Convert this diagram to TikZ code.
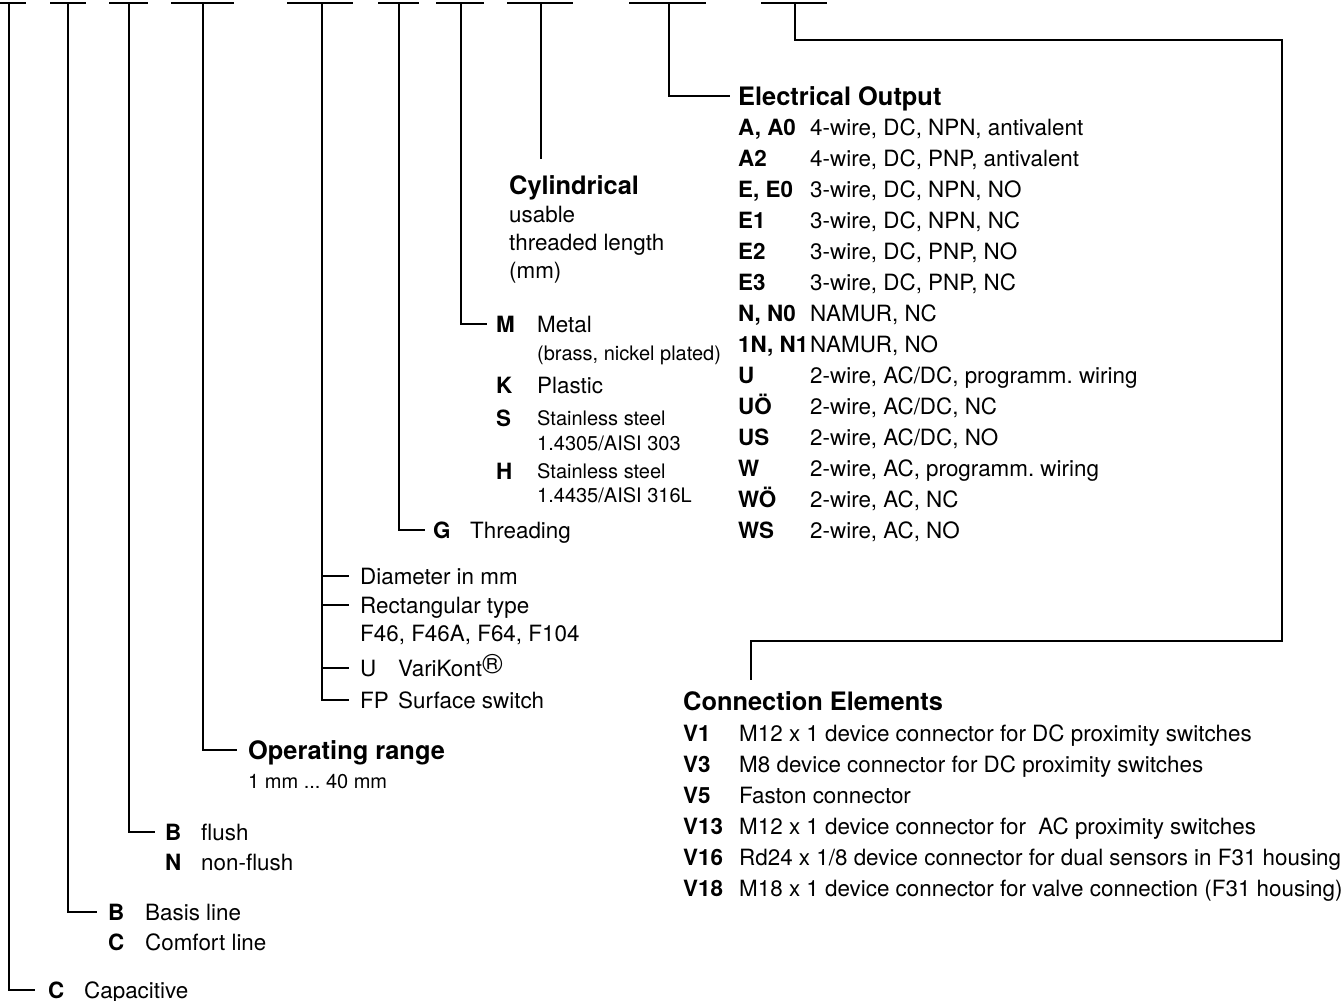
\documentclass[tikz,border=0pt]{standalone}
\usepackage{fontspec}
\setmainfont{TeX Gyre Heros}
\frenchspacing

\tikzset{
  lbl/.style={anchor=west, inner sep=0pt, text depth=0pt},
  txt/.style={lbl, font=\fontsize{11.2}{13}\selectfont, text height=8pt},
  codetxt/.style={lbl, font=\fontsize{11.2}{13}\selectfont\bfseries, text height=8pt},
  headtxt/.style={lbl, font=\fontsize{12.7}{15}\selectfont\bfseries, text height=9.1pt},
  smalltxt/.style={lbl, font=\fontsize{10}{12}\selectfont, text height=7.2pt},
}

\begin{document}
\begin{tikzpicture}[x=0.5pt, y=-0.5pt, line width=1.2pt]
    \useasboundingbox (0,0) rectangle (1344,1001);

    % Top bars of the type code
    \foreach \l/\r/\m [count=\i] in {0/26/9, 50/86/68, 109/148/129, 171/234/203, 287/353/322,
        378/419/399, 436/484/461, 507/573/541, 629/706/669, 761/827/795}
    {
        \draw (\l,3) -- (\r,3);
        \coordinate (b\i) at (\m,3);
    }

    % Sensor principle
    \node[codetxt] (capC) at (47,990) {C};
    \node[txt] (capCd) at (83,990) {Capacitive};

    % Product line
    \node[codetxt] (lineB) at (107,912) {B};
    \node[txt] (lineBd) at (144,912) {Basis line};
    \node[codetxt] (lineC) at (107,942) {C};
    \node[txt] (lineCd) at (144,942) {Comfort line};

    % Mounting
    \node[codetxt] (mntB) at (164,832) {B};
    \node[txt] (mntBd) at (200,832) {flush};
    \node[codetxt] (mntN) at (164,862) {N};
    \node[txt] (mntNd) at (200,862) {non-flush};

    % Operating range
    \node[headtxt] (range) at (247,750) {Operating range};
    \node[smalltxt] (rangev) at (247,781) {1 mm ... 40 mm};

    % Housing shape
    \node[txt] (diam) at (359,576) {Diameter in mm};
    \node[txt] (rect) at (359,605) {Rectangular type};
    \node[txt] (rectf) at (359,633) {F46, F46A, F64, F104};
    \node[txt] (varU) at (359,668) {U};
    \node[txt] (varUd) at (397,668) {VariKont\raisebox{1.5pt}{\fontsize{14}{14}\selectfont\textregistered}};
    \node[txt] (fp) at (359,700) {FP};
    \node[txt] (fpd) at (397,700) {Surface switch};

    % Threading
    \node[codetxt] (thrG) at (432,530) {G};
    \node[txt] (thrGd) at (469,530) {Threading};

    % Housing material
    \node[codetxt] (matM) at (495,324) {M};
    \node[txt] (matMd) at (536,324) {Metal};
    \node[smalltxt] (matMe) at (536,353) {(brass, nickel plated)};
    \node[codetxt] (matK) at (495,385) {K};
    \node[txt] (matKd) at (536,385) {Plastic};
    \node[codetxt] (matS) at (495,418) {S};
    \node[smalltxt] (matSd) at (536,418) {Stainless steel};
    \node[smalltxt] (matSe) at (536,443) {1.4305/AISI 303};
    \node[codetxt] (matH) at (495,471) {H};
    \node[smalltxt] (matHd) at (536,471) {Stainless steel};
    \node[smalltxt] (matHe) at (536,495) {1.4435/AISI 316L};

    % Cylindrical length
    \node[headtxt] (cyl) at (508,185) {Cylindrical};
    \node[txt] (cyla) at (508,214) {usable};
    \node[txt] (cylb) at (508,242) {threaded length};
    \node[txt] (cylc) at (508,270) {(mm)};

    % Electrical output
    \node[headtxt] (eout) at (737,96) {Electrical Output};
    \foreach \c/\d [count=\i from 0] in {{A, A0}/{4-wire, DC, NPN, antivalent},
        A2/{4-wire, DC, PNP, antivalent}, {E, E0}/{3-wire, DC, NPN, NO},
        E1/{3-wire, DC, NPN, NC}, E2/{3-wire, DC, PNP, NO}, E3/{3-wire, DC, PNP, NC},
        {N, N0}/{NAMUR, NC}, {1N, N1}/{NAMUR, NO}, U/{2-wire, AC/DC, programm. wiring},
        UÖ/{2-wire, AC/DC, NC}, US/{2-wire, AC/DC, NO}, W/{2-wire, AC, programm. wiring},
        WÖ/{2-wire, AC, NC}, WS/{2-wire, AC, NO}}
    {
        \node[codetxt] (eoc\i) at (737,127+31*\i) {\c};
        \node[txt] (eod\i) at (809,127+31*\i) {\d};
    }

    % Connection elements
    \node[headtxt] (conn) at (682,701) {Connection Elements};
    \foreach \c/\d [count=\i from 0] in {V1/{M12 x 1 device connector for DC proximity switches},
        V3/{M8 device connector for DC proximity switches}, V5/{Faston connector},
        V13/{M12 x 1 device connector for~ AC proximity switches},
        V16/{Rd24 x 1/8 device connector for dual sensors in F31 housing},
        V18/{M18 x 1 device connector for valve connection (F31 housing)}}
    {
        \node[codetxt] (cec\i) at (682,733+31*\i) {\c};
        \node[txt] (ced\i) at (738,733+31*\i) {\d};
    }

    % Leader lines
    \draw (b1) |- ([xshift=-6pt]capC.west);
    \draw (b2) |- ([xshift=-5pt]lineB.west);
    \draw (b3) |- ([xshift=-4.5pt]mntB.west);
    \draw (b4) |- ([xshift=-5pt]range.west);
    \draw (b5) |- ([xshift=-5pt]fp.west);
    \draw (b5 |- diam.west) -- ([xshift=-5pt]diam.west);
    \draw (b5 |- rect.west) -- ([xshift=-5pt]rect.west);
    \draw (b5 |- varU.west) -- ([xshift=-5pt]varU.west);
    \draw (b6) |- ([xshift=-3.5pt]thrG.west);
    \draw (b7) |- ([xshift=-4pt]matM.west);
    \draw (b8) -- ([yshift=8pt]b8 |- cyl.north);
    \draw (b9) |- ([xshift=-3.5pt]eout.west);

    % Connection elements, routed round the right side
    \coordinate (r1) at (1282,40);
    \coordinate (r2) at (751,641);
    \draw (b10) |- (r1) |- (r2) -- ([yshift=5.5pt]r2 |- conn.north);
\end{tikzpicture}
\end{document}
